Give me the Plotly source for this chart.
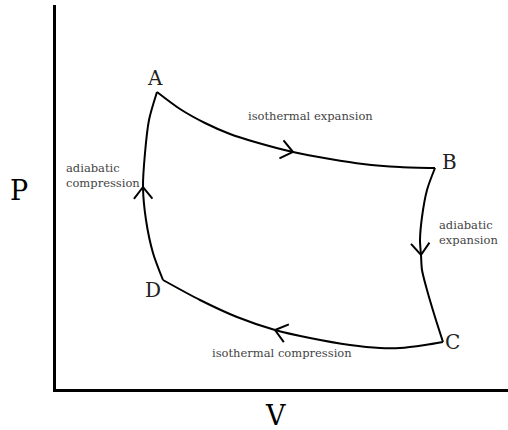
import numpy as np
import plotly.graph_objects as go

# Carnot cycle, hand-sketched P-V diagram (arbitrary units)
iso_exp_v = [101, 124, 149, 174, 199, 237, 274, 307, 344, 379]
iso_exp_p = [297, 280, 266, 255, 247, 237, 230, 225, 222, 221]

adi_exp_v = [379, 371, 366, 364, 365, 366, 371, 379, 387]
adi_exp_p = [221, 199, 172, 149, 134, 119, 99, 72, 47]

iso_comp_v = [387, 369, 344, 324, 294, 254, 219, 181, 144, 107]
iso_comp_p = [47, 44, 41, 41, 44, 51, 59, 72, 89, 109]

adi_comp_v = [107, 97, 90, 87, 89, 93, 101]
adi_comp_p = [109, 136, 169, 202, 236, 269, 297]

# which point of each path carries the arrow head
arrow_idx = [5, 4, 6, 3]

corner_names = ["A", "B", "C", "D"]
corner_v = [99, 393, 396, 97]
corner_p = [311, 227, 47, 99]

V_MAX, P_MAX = 452, 384

paths = [
    (iso_exp_v, iso_exp_p),
    (adi_exp_v, adi_exp_p),
    (iso_comp_v, iso_comp_p),
    (adi_comp_v, adi_comp_p),
]

fig = go.Figure()

for (v, p), k in zip(paths, arrow_idx):
    fig.add_trace(go.Scatter(x=v, y=p, mode="lines",
                             line=dict(color="black", width=2, shape="spline", smoothing=0.8),
                             hoverinfo="skip", showlegend=False))
    # open chevron arrow head pointing along the path
    tip = np.array([v[k], p[k]], dtype=float)
    d = np.array([v[k + 1] - v[k - 1], p[k + 1] - p[k - 1]], dtype=float)
    d /= np.linalg.norm(d)
    arms = []
    for ang in (np.radians(38), -np.radians(38)):
        rot = np.array([[np.cos(ang), -np.sin(ang)], [np.sin(ang), np.cos(ang)]])
        arms.append(tip - 15 * rot @ d)
    fig.add_trace(go.Scatter(x=[arms[0][0], tip[0], arms[1][0]],
                             y=[arms[0][1], tip[1], arms[1][1]],
                             mode="lines", line=dict(color="black", width=2),
                             hoverinfo="skip", showlegend=False))

for name, v, p in zip(corner_names, corner_v, corner_p):
    fig.add_annotation(x=v, y=p, text=name, showarrow=False,
                       font=dict(family="DejaVu Serif", size=20, color="#222"))

small = dict(family="DejaVu Serif", size=11.5, color="#444")
fig.add_annotation(x=254, y=273, text="isothermal expansion", showarrow=False, font=small)
fig.add_annotation(x=226, y=36, text="isothermal compression", showarrow=False, font=small)
fig.add_annotation(x=8, y=214, text="adiabatic<br>compression", showarrow=False,
                   xanchor="left", align="left", font=small)
fig.add_annotation(x=381, y=157, text="adiabatic<br>expansion", showarrow=False,
                   xanchor="left", align="left", font=small)

# axis letters sit outside the plot area, so place them in paper units
big = dict(family="DejaVu Serif", size=27, color="black")
fig.add_annotation(xref="paper", yref="paper", x=-37 / V_MAX, y=199 / P_MAX,
                   xanchor="center", yanchor="middle",
                   text="P", showarrow=False, font=big)
fig.add_annotation(xref="paper", yref="paper", x=219 / V_MAX, y=-26 / P_MAX,
                   xanchor="center", yanchor="middle",
                   text="V", showarrow=False, font=big)

fig.update_layout(
    width=508, height=430,
    margin=dict(l=56, r=0, t=5, b=41),
    paper_bgcolor="white", plot_bgcolor="white",
    xaxis=dict(range=[0, V_MAX], showline=True, linecolor="black", linewidth=2.5,
               showgrid=False, zeroline=False, showticklabels=False, ticks=""),
    yaxis=dict(range=[0, P_MAX], showline=True, linecolor="black", linewidth=2.5,
               showgrid=False, zeroline=False, showticklabels=False, ticks=""),
)

# drop the default page margin so the figure sits at the window origin
fig.write_html("out.html", config={"displayModeBar": False},
               post_script="document.body.style.margin='0';"
                           "document.body.style.overflow='hidden';")
